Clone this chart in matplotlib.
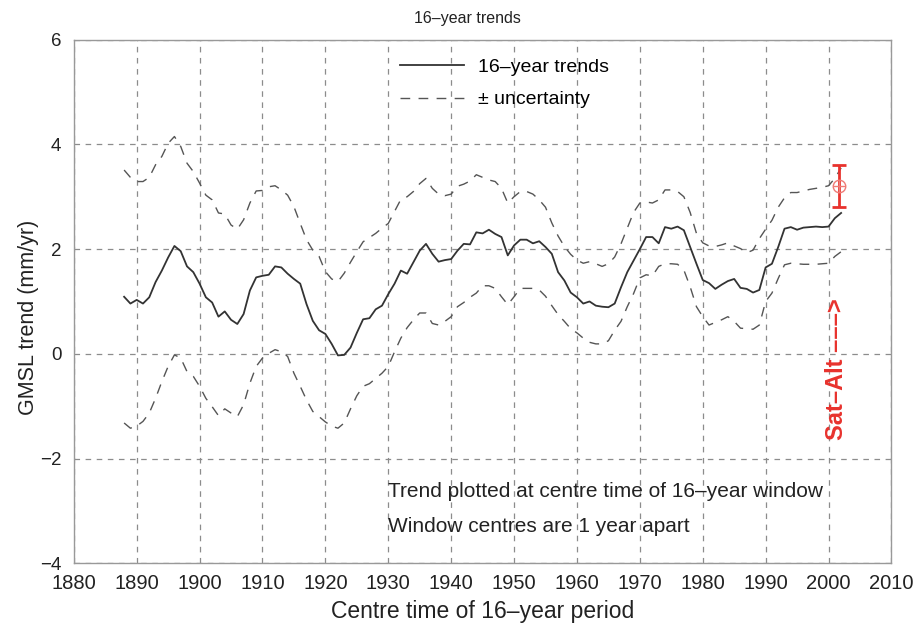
import numpy as np
import matplotlib
matplotlib.use("Agg")
import matplotlib.pyplot as plt

plt.rcParams["font.family"] = ["Liberation Sans", "DejaVu Sans"]
plt.rcParams["lines.scale_dashes"] = False

# window centre years, one per year
years = list(range(1888, 2003))

# 16-year trend (mm/yr)
trend = [
    1.09, 0.96, 1.03, 0.96, 1.08, 1.37, 1.59, 1.84, 2.06, 1.96,   # 1888-1897
    1.67, 1.56, 1.34, 1.08, 0.98, 0.71, 0.81, 0.65, 0.57, 0.76,   # 1898-1907
    1.21, 1.46, 1.49, 1.51, 1.67, 1.65, 1.53, 1.43, 1.34, 0.95,   # 1908-1917
    0.63, 0.45, 0.38, 0.19, -0.03, -0.02, 0.12, 0.40, 0.66, 0.68, # 1918-1927
    0.85, 0.92, 1.14, 1.34, 1.59, 1.53, 1.75, 1.97, 2.10, 1.91,   # 1928-1937
    1.76, 1.79, 1.81, 1.97, 2.10, 2.09, 2.32, 2.30, 2.37, 2.29,   # 1938-1947
    2.23, 1.88, 2.07, 2.18, 2.18, 2.11, 2.15, 2.04, 1.91, 1.56,   # 1948-1957
    1.40, 1.17, 1.08, 0.96, 1.00, 0.92, 0.90, 0.89, 0.96, 1.27,   # 1958-1967
    1.56, 1.78, 2.00, 2.23, 2.23, 2.11, 2.42, 2.39, 2.43, 2.36,   # 1968-1977
    2.04, 1.72, 1.41, 1.35, 1.24, 1.32, 1.39, 1.43, 1.26, 1.24,   # 1978-1987
    1.17, 1.22, 1.65, 1.72, 2.04, 2.39, 2.42, 2.37, 2.41, 2.42,   # 1988-1997
    2.43, 2.42, 2.43, 2.59, 2.69,                                 # 1998-2002
]

upper = [
    3.51, 3.37, 3.29, 3.29, 3.37, 3.61, 3.77, 4.02, 4.15, 3.96,
    3.64, 3.48, 3.26, 3.03, 2.94, 2.69, 2.67, 2.46, 2.38, 2.56,
    2.88, 3.11, 3.12, 3.19, 3.21, 3.13, 3.03, 2.81, 2.49, 2.18,
    1.98, 1.86, 1.57, 1.43, 1.38, 1.54, 1.75, 1.95, 2.14, 2.22,
    2.30, 2.40, 2.49, 2.72, 2.95, 3.00, 3.10, 3.25, 3.35, 3.16,
    3.05, 3.02, 3.05, 3.20, 3.24, 3.30, 3.42, 3.37, 3.32, 3.29,
    3.16, 2.88, 3.00, 3.10, 3.10, 3.05, 2.94, 2.80, 2.50, 2.25,
    2.05, 1.90, 1.79, 1.73, 1.76, 1.72, 1.67, 1.72, 1.85, 2.10,
    2.40, 2.70, 2.88, 2.90, 2.88, 2.94, 3.13, 3.13, 3.10, 3.00,
    2.70, 2.30, 2.12, 2.06, 2.05, 2.08, 2.12, 2.06, 2.01, 1.93,
    1.98, 2.20, 2.38, 2.55, 2.80, 2.98, 3.08, 3.08, 3.11, 3.14,
    3.16, 3.18, 3.21, 3.35, 3.55,
]

lower = [
    -1.32, -1.42, -1.38, -1.29, -1.13, -0.85, -0.53, -0.24, -0.02, -0.08,
    -0.34, -0.43, -0.62, -0.85, -1.01, -1.18, -1.05, -1.13, -1.20, -0.97,
    -0.56, -0.24, -0.08, 0.01, 0.08, 0.04, -0.05, -0.37, -0.62, -0.88,
    -1.10, -1.20, -1.30, -1.38, -1.42, -1.32, -1.05, -0.80, -0.62, -0.57,
    -0.47, -0.37, -0.24, 0.04, 0.30, 0.50, 0.65, 0.78, 0.78, 0.58,
    0.55, 0.62, 0.71, 0.90, 0.98, 1.08, 1.16, 1.30, 1.30, 1.25,
    1.09, 0.94, 1.09, 1.25, 1.25, 1.25, 1.22, 1.10, 0.92, 0.75,
    0.62, 0.48, 0.40, 0.30, 0.22, 0.19, 0.19, 0.25, 0.45, 0.62,
    0.90, 1.15, 1.45, 1.51, 1.49, 1.67, 1.72, 1.72, 1.71, 1.60,
    1.28, 0.90, 0.71, 0.55, 0.60, 0.65, 0.71, 0.62, 0.49, 0.48,
    0.47, 0.55, 1.00, 1.16, 1.44, 1.70, 1.73, 1.72, 1.71, 1.71,
    1.71, 1.72, 1.73, 1.86, 1.95,
]

# satellite altimetry estimate
sat_year = 2001.6
sat_trend = 3.2
sat_err = 0.4

fig = plt.figure(figsize=(9.19, 6.23), dpi=100)
ax = fig.add_axes([0.0803, 0.0958, 0.8897, 0.8406])

ax.plot(years, trend, color="#333333", lw=1.3, label="16\u2013year trends")
ax.plot(years, upper, color="#555555", lw=1.0, ls=(0, (7, 6)), label="\u00b1 uncertainty")
ax.plot(years, lower, color="#555555", lw=1.0, ls=(0, (7, 6)))

red = "#e8322d"
ax.errorbar([sat_year], [sat_trend], yerr=[sat_err], fmt="none", ecolor=red,
            elinewidth=2, capsize=5, capthick=2)
ax.plot([sat_year], [sat_trend], "o", ms=9, mfc="none", mec="#ef7b76", mew=1.0)
ax.plot([sat_year], [sat_trend], "+", ms=9, mec="#ef7b76", mew=1.0)

ax.text(2001.3, -0.3, "Sat\u2013Alt \u2013\u2013\u2013>", rotation=90, color=red,
        fontsize=17, fontweight="bold", ha="center", va="center")

ax.text(1930, -2.62, "Trend plotted at centre time of 16\u2013year window",
        fontsize=15, color="#222222", va="center")
ax.text(1930, -3.3, "Window centres are 1 year apart",
        fontsize=15, color="#222222", va="center")

ax.set_xlim(1880, 2010)
ax.set_ylim(-4, 6)
ax.set_xticks(range(1880, 2011, 10))
ax.set_yticks(range(-4, 7, 2))
ax.set_yticklabels(["\u22124", "\u22122", "0", "2", "4", "6"])
ax.tick_params(length=0, colors="#222222")
ax.tick_params(axis="x", labelsize=14.5, pad=8)
ax.tick_params(axis="y", labelsize=13.5, pad=9)

ax.grid(True, color="#8c8c8c", lw=0.9, ls=(0, (4, 4)))
for s in ax.spines.values():
    s.set_color("#999999")
    s.set_linewidth(1.0)

ax.set_xlabel("Centre time of 16\u2013year period", fontsize=16.5, color="#222222", labelpad=5)
ax.set_ylabel("GMSL trend (mm/yr)", fontsize=15.5, color="#222222")
ax.yaxis.set_label_coords(-0.042, 0.47)
ax.set_title("16\u2013year trends", fontsize=11.5, color="#222222", pad=12, x=0.481)

ax.legend(loc="upper left", bbox_to_anchor=(0.377, 0.997), frameon=False, fontsize=14,
          handlelength=3.3, handletextpad=0.75, labelspacing=0.75)

fig.savefig("out.png", dpi=100)
